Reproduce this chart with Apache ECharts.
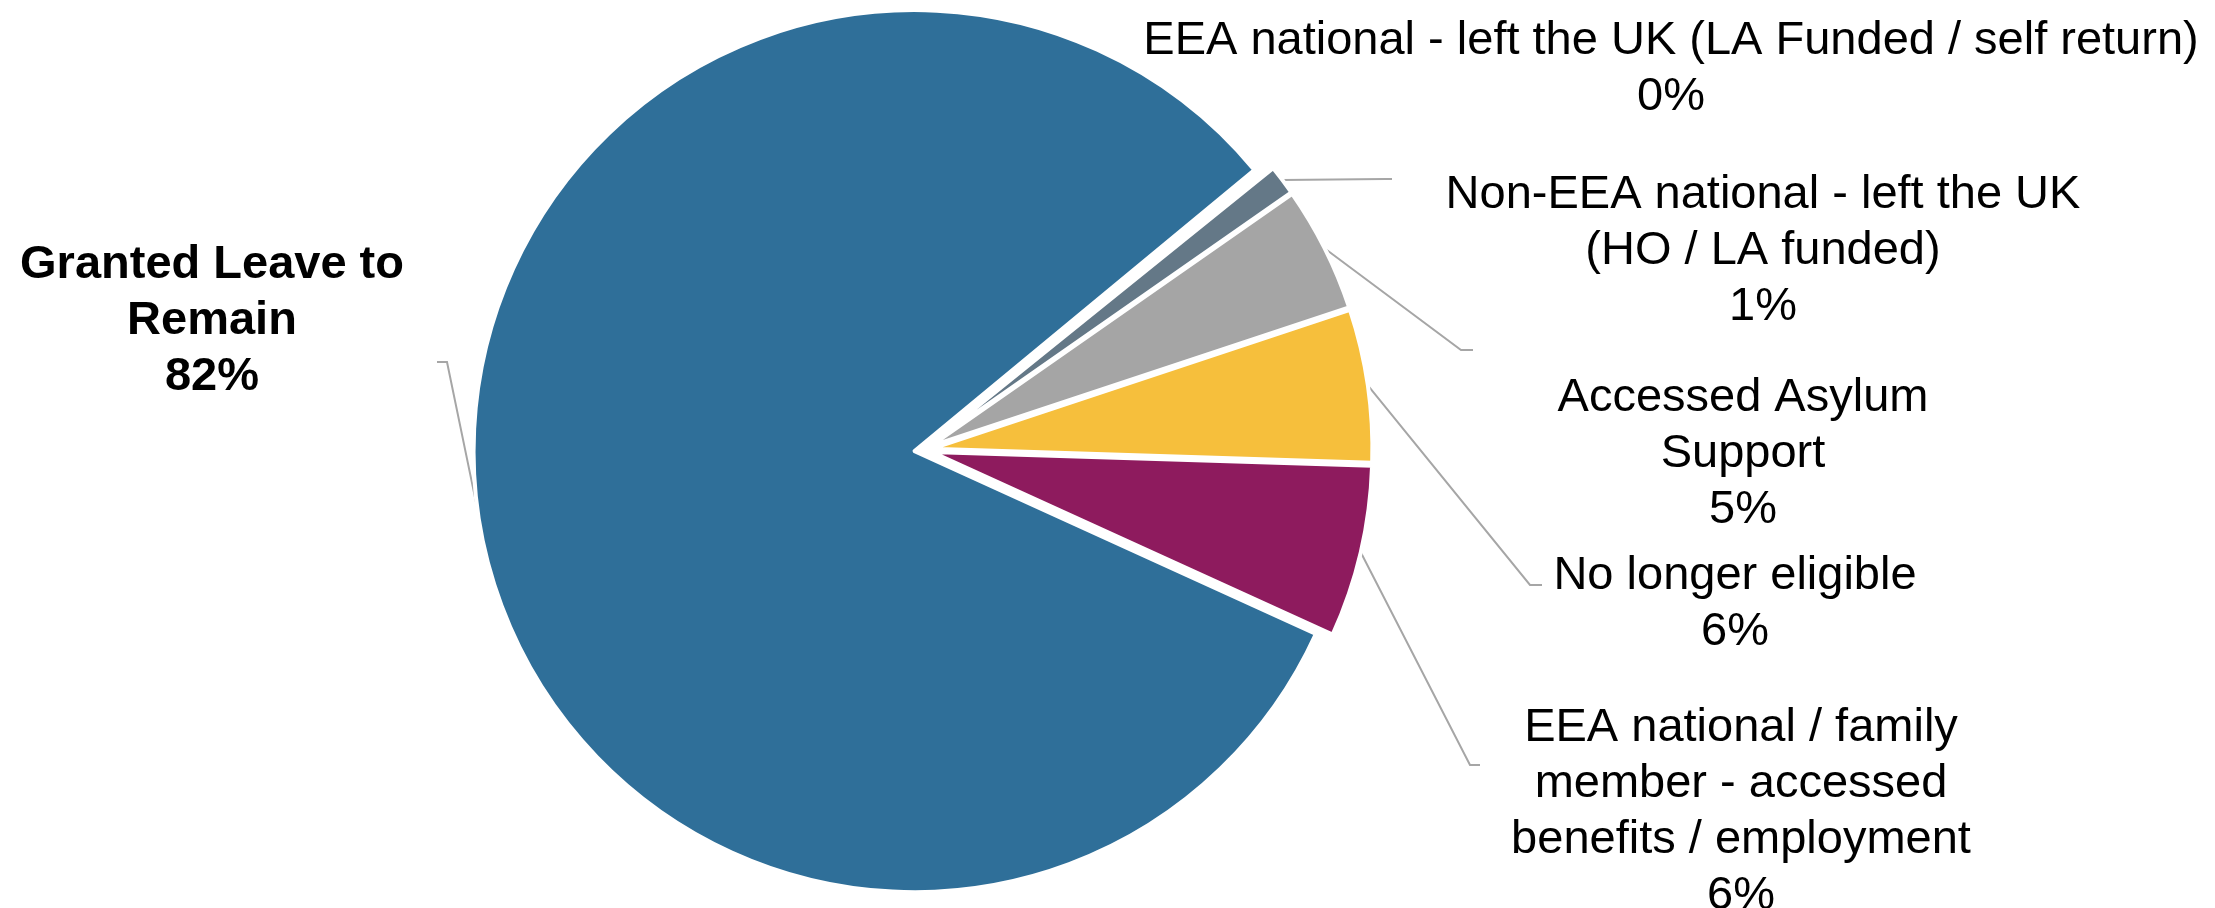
<!DOCTYPE html>
<html>
<head>
<meta charset="utf-8">
<script src="https://cdn.jsdelivr.net/npm/echarts@6/dist/echarts.min.js"></script>
<style>
  html, body { margin: 0; padding: 0; background: #fff; }
  #chart { width: 2215px; height: 908px; }
</style>
</head>
<body>
<div id="chart"></div>
<script>
// categories, clockwise from the upper right
const categories = [
  'EEA national - left the UK (LA Funded / self return)',
  'Non-EEA national - left the UK\n(HO / LA funded)',
  'Accessed Asylum\nSupport',
  'No longer eligible',
  'EEA national / family\nmember - accessed\nbenefits / employment',
  'Granted Leave to\nRemain'
];
// share of cases, %
const shares = [0.2, 1.1, 4.6, 5.6, 6.3, 82.2];
const colors = ['#ffffff', '#647887', '#a5a5a5', '#f6bf3c', '#8e1b5e', '#2f6f99'];

// label placement (centre of each label block) and leader bends
const labelPos = [[1671, 69], [1763, 251], [1743, 454], [1735, 604], [1741, 812], [212, 321]];
const leaderBends = [
  null,
  [[1385, 179], [1392, 179]],
  [[1461, 350], [1473, 350]],
  [[1530, 585], [1542, 585]],
  [[1470, 765], [1480, 765]],
  [[447, 362], [437, 362]]
];

const pieCenter = [923, 450];
const pieRadius = 441;
const explode = 8.5;

const myChart = echarts.init(document.getElementById('chart'));

// slices (all pulled out a little, like the original)
const sliceData = categories.map(function (name, i) {
  return { name: name, value: shares[i], selected: true, itemStyle: { color: colors[i] } };
});

// same values again, only to carry the labels and leader lines
const labelData = categories.map(function (name, i) {
  const item = { name: name, value: shares[i] };
  if (i === 0) item.labelLine = { show: false };
  if (i === 5) item.label = { fontWeight: 'bold' };
  return item;
});

myChart.setOption({
  animation: false,
  series: [{
    type: 'pie',
    center: pieCenter,
    radius: pieRadius,
    startAngle: 39.6,
    clockwise: true,
    selectedMode: 'multiple',
    selectedOffset: explode,
    data: sliceData,
    itemStyle: { borderColor: '#fff', borderWidth: 4 },
    select: { itemStyle: { borderColor: '#fff', borderWidth: 4 } },
    emphasis: { disabled: true },
    label: { show: false },
    labelLine: { show: false }
  }, {
    type: 'pie',
    center: pieCenter,
    radius: pieRadius,
    startAngle: 39.6,
    clockwise: true,
    silent: true,
    data: labelData,
    itemStyle: { color: 'rgba(0,0,0,0)', borderWidth: 0 },
    emphasis: { disabled: true },
    label: {
      show: true,
      position: 'outside',
      color: '#000',
      fontFamily: 'Liberation Sans, Arial, sans-serif',
      fontSize: 47,
      lineHeight: 56,
      align: 'center',
      overflow: 'none',
      formatter: function (p) {
        return p.name + '\n' + Math.round(p.percent) + '%';
      }
    },
    labelLine: {
      show: true,
      lineStyle: { color: '#a6a6a6', width: 2 }
    },
    labelLayout: function (p) {
      const i = p.dataIndex;
      const out = {
        x: labelPos[i][0],
        y: labelPos[i][1],
        align: 'center',
        verticalAlign: 'middle',
        hideOverlap: false
      };
      if (leaderBends[i] && p.labelLinePoints) {
        const p0 = p.labelLinePoints[0];
        const vx = p0[0] - pieCenter[0];
        const vy = p0[1] - pieCenter[1];
        const len = Math.sqrt(vx * vx + vy * vy) || 1;
        const start = [p0[0] + vx / len * explode, p0[1] + vy / len * explode];
        out.labelLinePoints = [start].concat(leaderBends[i]);
      }
      return out;
    }
  }]
});
</script>
</body>
</html>
